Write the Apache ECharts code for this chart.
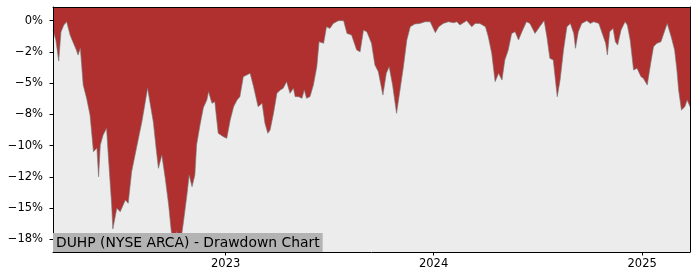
<!DOCTYPE html>
<html>
<head>
<meta charset="utf-8">
<script src="https://cdn.jsdelivr.net/npm/echarts@6/dist/echarts.min.js"></script>
<style>
html,body{margin:0;padding:0;background:#fff;}
#chart{width:700px;height:280px;}
</style>
</head>
<body>
<div id="chart"></div>
<script>
const chartTitle = 'DUHP (NYSE ARCA) - Drawdown Chart';

const dates = [
'2022-03-04','2022-03-09','2022-03-14','2022-03-18','2022-03-23','2022-03-28','2022-04-03','2022-04-08','2022-04-14','2022-04-17',
'2022-04-21','2022-04-26','2022-05-02','2022-05-08','2022-05-14','2022-05-20','2022-05-23','2022-05-26','2022-05-31','2022-06-06',
'2022-06-09','2022-06-15','2022-06-17','2022-06-24','2022-06-30','2022-07-09','2022-07-14','2022-07-20','2022-07-26','2022-08-01',
'2022-08-07','2022-08-13','2022-08-17','2022-08-21','2022-08-27','2022-09-01','2022-09-05','2022-09-11','2022-09-17','2022-09-23',
'2022-09-27','2022-10-01','2022-10-07','2022-10-13','2022-10-19','2022-10-25','2022-10-29','2022-11-03','2022-11-08','2022-11-11',
'2022-11-17','2022-11-23','2022-11-29','2022-12-02','2022-12-08','2022-12-13','2022-12-19','2022-12-28','2023-01-03','2023-01-09',
'2023-01-15','2023-01-21','2023-01-26','2023-02-01','2023-02-07','2023-02-13','2023-02-19','2023-02-27','2023-03-06','2023-03-11',
'2023-03-16','2023-03-20','2023-03-26','2023-04-01','2023-04-07','2023-04-12','2023-04-18','2023-04-24','2023-04-30','2023-05-03',
'2023-05-09','2023-05-15','2023-05-19','2023-05-23','2023-05-29','2023-06-04','2023-06-10','2023-06-14','2023-06-22','2023-06-27',
'2023-07-03','2023-07-09','2023-07-18','2023-07-27','2023-08-02','2023-08-10','2023-08-19','2023-08-25','2023-08-31','2023-09-06',
'2023-09-14','2023-09-20','2023-09-26','2023-10-04','2023-10-10','2023-10-15','2023-10-21','2023-10-28','2023-11-03','2023-11-09',
'2023-11-15','2023-11-21','2023-11-29','2023-12-08','2023-12-17','2023-12-26','2024-01-04','2024-01-10','2024-01-18','2024-01-27',
'2024-02-05','2024-02-11','2024-02-16','2024-02-28','2024-03-08','2024-03-14','2024-03-22','2024-04-01','2024-04-06','2024-04-12',
'2024-04-18','2024-04-24','2024-04-30','2024-05-05','2024-05-11','2024-05-17','2024-05-23','2024-05-29','2024-06-04','2024-06-12',
'2024-06-18','2024-06-27','2024-07-06','2024-07-13','2024-07-18','2024-07-23','2024-07-29','2024-08-05','2024-08-10','2024-08-16',
'2024-08-22','2024-08-28','2024-09-03','2024-09-06','2024-09-11','2024-09-17','2024-09-26','2024-10-02','2024-10-08','2024-10-17',
'2024-10-23','2024-10-29','2024-11-01','2024-11-05','2024-11-11','2024-11-15','2024-11-19','2024-11-25','2024-12-02','2024-12-06',
'2024-12-11','2024-12-17','2024-12-23','2024-12-30','2025-01-03','2025-01-10','2025-01-16','2025-01-21','2025-01-27','2025-02-03',
'2025-02-06','2025-02-10','2025-02-14','2025-02-21','2025-02-27','2025-03-03','2025-03-06','2025-03-11','2025-03-17','2025-03-21',
'2025-03-26'
];

const drawdown = [
-0.75,-1.55,-3.23,-0.91,-0.35,-0.09,-1.15,-1.71,-2.35,-2.75,
-2.21,-5.15,-6.21,-7.55,-10.48,-10.18,-12.48,-9.94,-9.14,-8.61,
-10.74,-14.74,-16.66,-15.00,-15.28,-14.34,-14.60,-12.08,-10.74,-9.41,
-8.08,-6.48,-5.41,-6.48,-8.08,-10.21,-11.81,-10.74,-12.61,-14.74,
-16.58,-18.20,-16.87,-18.07,-16.08,-13.94,-12.34,-13.28,-12.34,-9.94,
-8.35,-6.95,-6.35,-5.68,-6.61,-6.48,-9.01,-9.28,-9.41,-7.95,
-6.88,-6.35,-6.08,-4.48,-4.35,-4.21,-5.28,-6.88,-6.61,-8.21,
-9.01,-8.75,-7.41,-5.81,-5.55,-5.41,-4.88,-5.81,-5.41,-6.08,
-6.08,-6.21,-5.55,-6.21,-6.08,-5.15,-3.69,-1.69,-1.81,-0.49,
-0.62,-0.22,0.00,0.00,-1.02,-1.15,-2.35,-2.49,-0.75,-0.91,
-1.81,-3.55,-4.08,-5.95,-4.21,-3.69,-5.15,-7.41,-5.55,-3.69,
-1.55,-0.49,-0.27,-0.22,-0.09,-0.09,-0.97,-0.49,-0.22,-0.09,
-0.17,-0.09,-0.35,0.00,-0.49,-0.22,-0.22,-0.49,-1.29,-2.61,
-4.88,-4.21,-4.75,-3.15,-2.35,-1.02,-0.89,-1.55,-0.89,-0.09,
-0.22,-1.02,-0.43,0.00,-1.35,-3.01,-3.15,-6.08,-4.75,-2.35,
-0.49,-0.22,-1.02,-2.21,-0.89,-0.22,0.00,-0.22,-0.09,-0.22,
-1.02,-1.81,-2.75,-0.89,-0.62,-1.69,-1.95,-0.75,-0.09,-0.35,
-1.55,-3.95,-3.81,-4.48,-4.61,-5.15,-3.41,-2.09,-1.81,-1.69,
-1.29,-0.75,-0.22,-1.29,-2.35,-3.95,-5.55,-7.15,-6.88,-6.35,
-6.88
];

const yTickValues = [0, -2.5, -5, -7.5, -10, -12.5, -15, -17.5];
const yTickLabels = ['0%', '\u22122%', '\u22125%', '\u22128%', '\u221210%', '\u221212%', '\u221215%', '\u221218%'];
const xTickDates = ['2023-01-01', '2024-01-01', '2025-01-01'];
const xTickLabels = ['2023', '2024', '2025'];

const xMin = '2022-03-04';
const xMax = '2025-03-26';
const yMin = -18.5;
const yMax = 1.09;

const toTs = s => Date.UTC(+s.slice(0, 4), +s.slice(5, 7) - 1, +s.slice(8, 10));
const xTickTs = xTickDates.map(toTs);

const chart = echarts.init(document.getElementById('chart'), null, {renderer: 'canvas'});
const font = 'DejaVu Sans';

chart.setOption({
  animation: false,
  backgroundColor: '#ffffff',
  title: {
    text: chartTitle,
    left: 53,
    top: 233,
    padding: [2, 3, 1, 3],
    backgroundColor: '#b3b3b3',
    textStyle: {fontFamily: font, fontSize: 13.9, fontWeight: 'normal', color: '#000', lineHeight: 16},
    z: 20
  },
  grid: {left: 53, right: 10, top: 7, bottom: 28, show: true, backgroundColor: '#ececec', borderWidth: 0},
  xAxis: [{
    type: 'value',
    min: toTs(xMin),
    max: toTs(xMax),
    z: 10,
    axisLine: {show: true, onZero: false, lineStyle: {color: '#000', width: 1}},
    axisTick: {show: true, length: 3.5, inside: false, customValues: xTickTs, lineStyle: {color: '#000'}},
    axisLabel: {
      show: true, customValues: xTickTs, margin: 6,
      fontFamily: font, fontSize: 11.5, color: '#000',
      formatter: v => { const i = xTickTs.findIndex(t => Math.abs(t - v) < 86400000); return i >= 0 ? xTickLabels[i] : ''; }
    },
    splitLine: {show: false}
  }, {
    type: 'value',
    position: 'top',
    min: toTs(xMin),
    max: toTs(xMax),
    z: 10,
    axisLine: {show: true, onZero: false, lineStyle: {color: '#000', width: 1}},
    axisTick: {show: false},
    axisLabel: {show: false},
    splitLine: {show: false}
  }],
  yAxis: [{
    type: 'value',
    min: yMin,
    max: yMax,
    z: 10,
    axisLine: {show: true, onZero: false, lineStyle: {color: '#000', width: 1}},
    axisTick: {show: true, length: 3.5, inside: false, customValues: yTickValues, lineStyle: {color: '#000'}},
    axisLabel: {
      show: true, customValues: yTickValues, margin: 10,
      fontFamily: font, fontSize: 11.5, color: '#000',
      formatter: v => { const i = yTickValues.findIndex(t => Math.abs(t - v) < 1e-6); return i >= 0 ? yTickLabels[i] : ''; }
    },
    splitLine: {show: false}
  }, {
    type: 'value',
    position: 'right',
    min: yMin,
    max: yMax,
    z: 10,
    axisLine: {show: true, onZero: false, lineStyle: {color: '#000', width: 1}},
    axisTick: {show: false},
    axisLabel: {show: false},
    splitLine: {show: false}
  }],
  series: [{
    type: 'line',
    xAxisIndex: 0,
    yAxisIndex: 0,
    data: dates.map((d, i) => [toTs(d), drawdown[i]]),
    symbol: 'none',
    smooth: false,
    lineStyle: {color: 'rgba(120,120,120,0.8)', width: 0.8},
    areaStyle: {color: '#b03030', opacity: 1, origin: 'end'},
    z: 2
  }]
});
</script>
</body>
</html>
